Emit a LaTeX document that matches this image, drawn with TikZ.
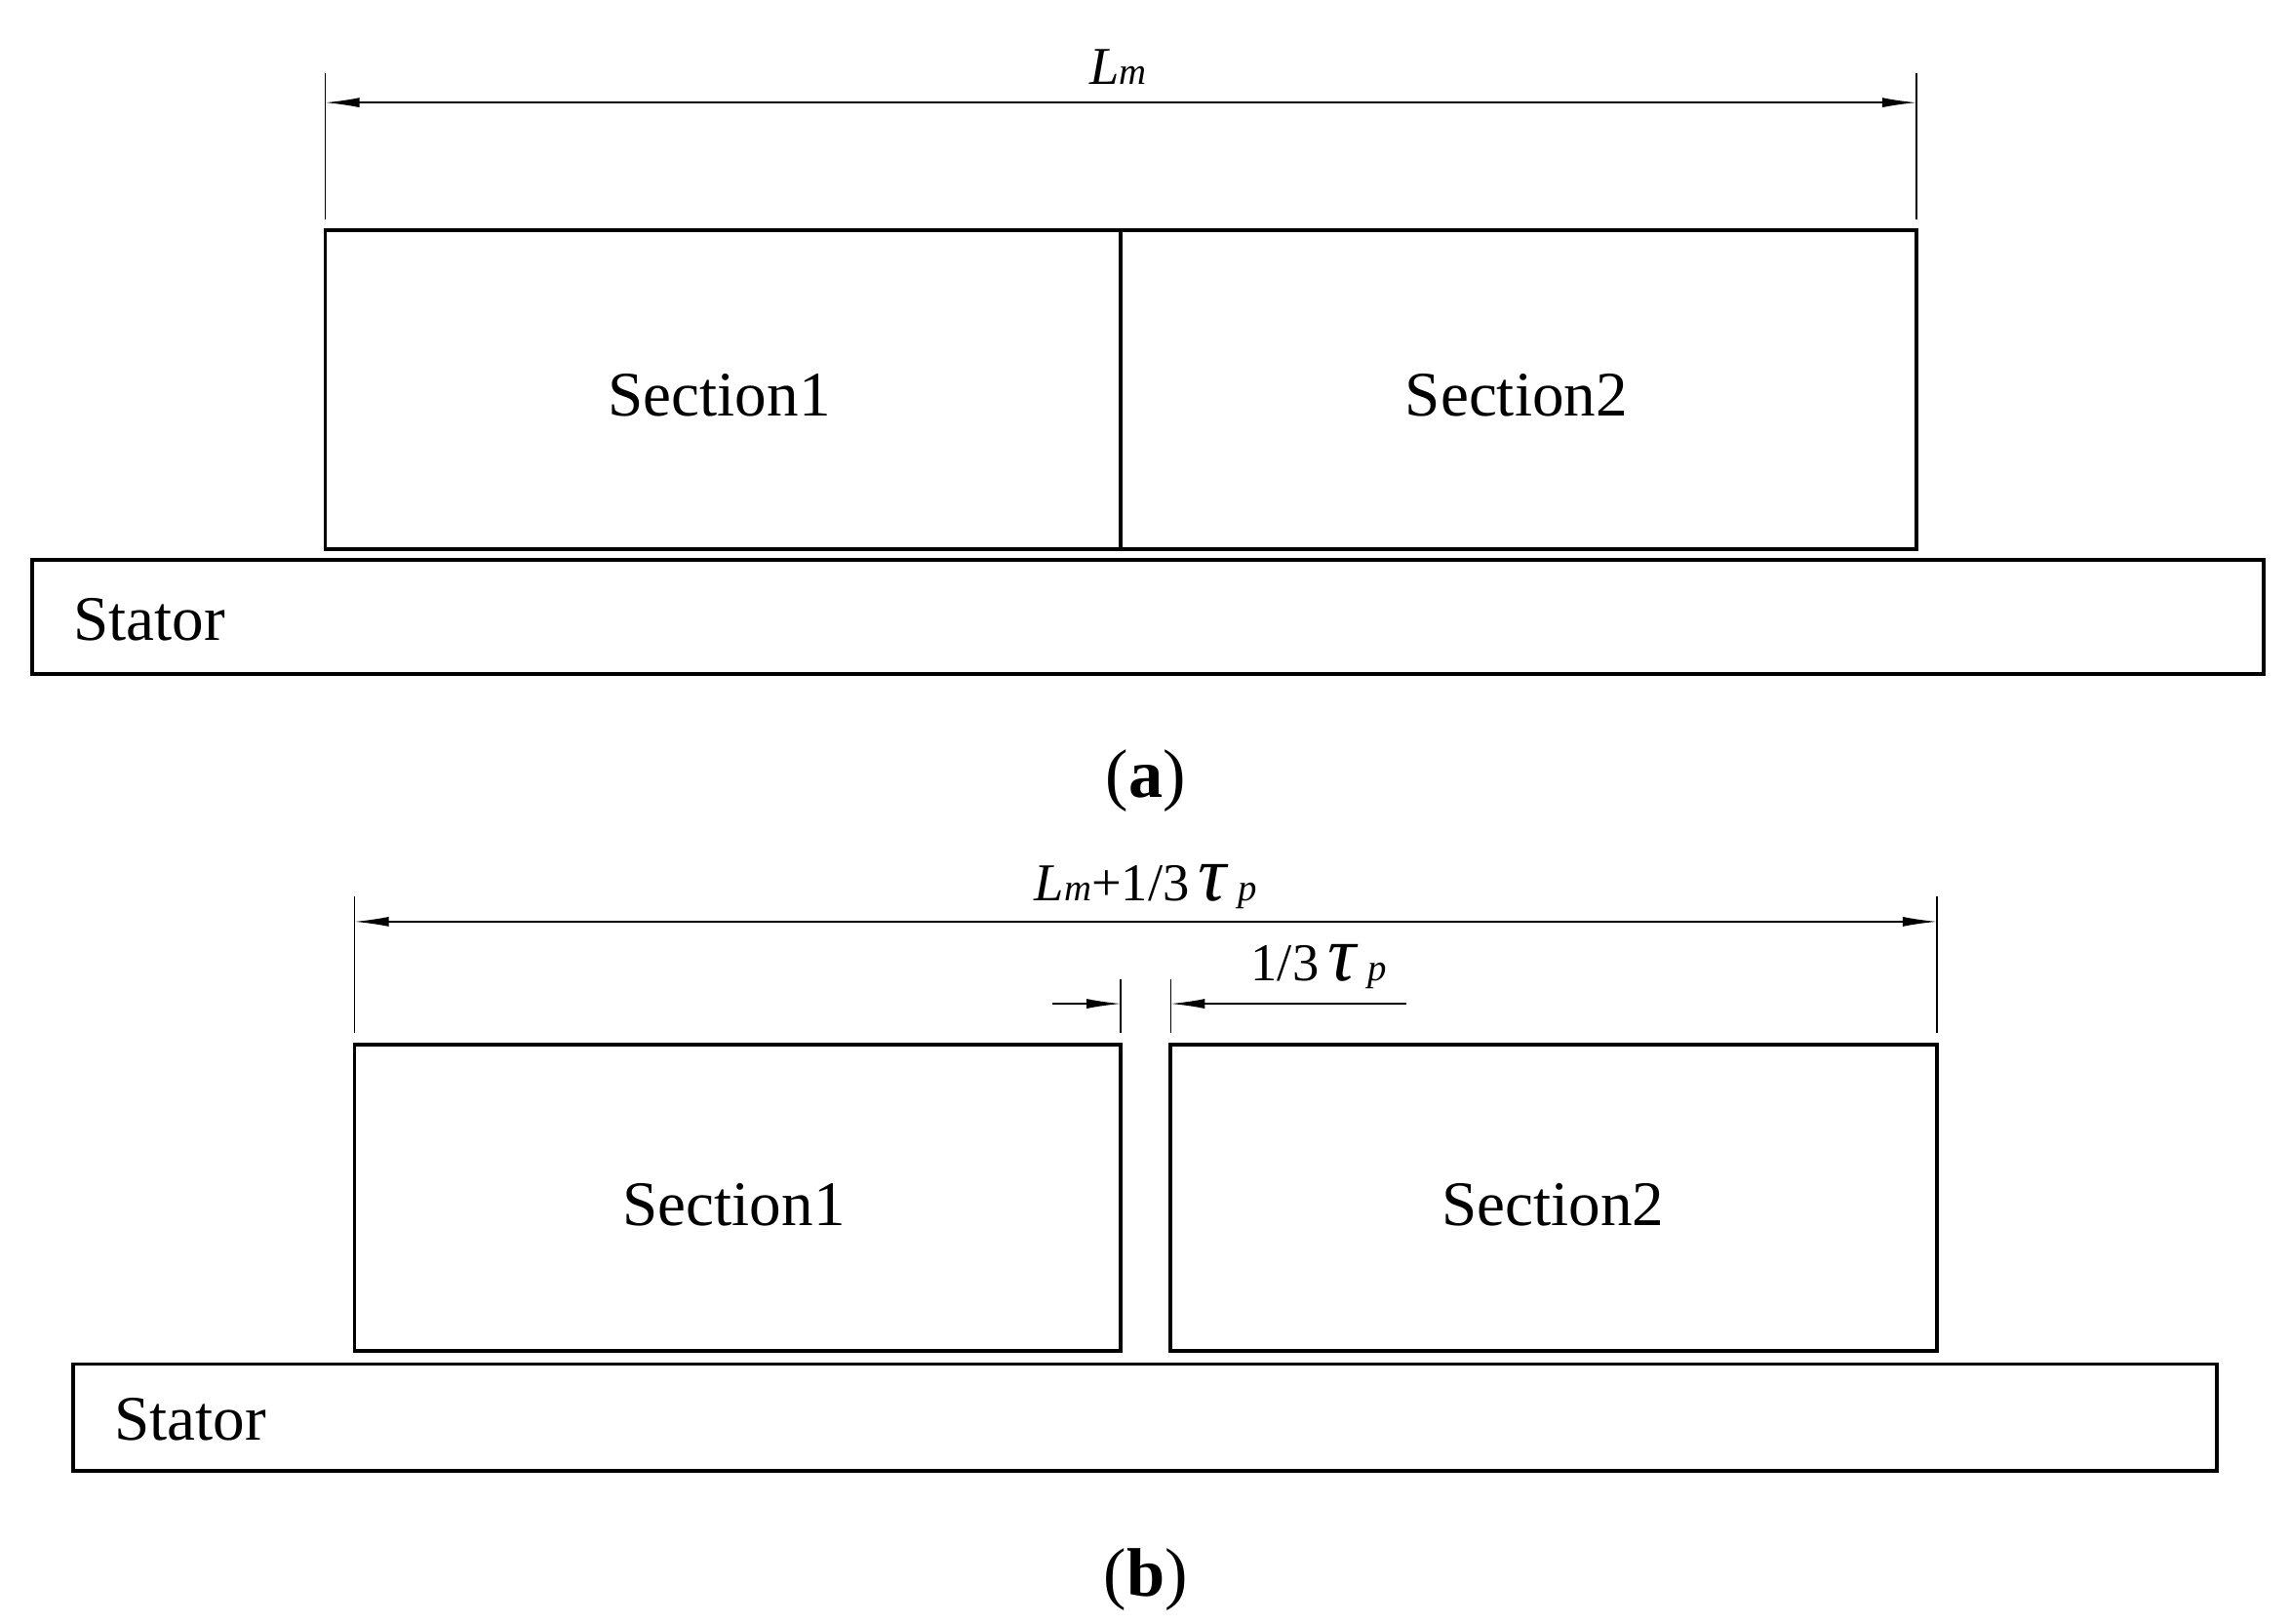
\documentclass[tikz,border=0pt]{standalone}
\usepackage{fontspec}
\setmainfont{Liberation Serif}
\usetikzlibrary{arrows.meta}
\newcommand{\bigtau}{{\fontsize{46}{48}\selectfont\textit{τ}}}
\begin{document}
\begin{tikzpicture}[x=0.3mm,y=-0.3mm,
  box/.style={line width=0.75mm},
  dim/.style={line width=0.3mm},
  arr/.style={dim,-{Latex[length=7mm,width=2mm]}},
  darr/.style={dim,{Latex[length=7mm,width=2mm]}-{Latex[length=7mm,width=2mm]}},
  lbl/.style={font=\fontsize{37}{40}\selectfont},
  dl/.style={font=\fontsize{31}{34}\selectfont}]
\useasboundingbox (0,0) rectangle (1563,1108);
% (a)
\draw[dim] (222,50) -- (222,150);
\draw[dim] (1308,50) -- (1308,150);
\draw[darr] (222,70) -- (1308,70);
\node[dl] (lma) at (763,46) {\textit{L}\textit{\fontsize{22}{24}\selectfont m}};
\draw[box] (222,157) rectangle (765,375);
\draw[box] (765,157) rectangle (1308,375);
\draw[box] (22,382) rectangle (1545,460);
\node[lbl] (s1a) at (491,270) {Section1};
\node[lbl] (s2a) at (1035,270) {Section2};
\node[lbl,anchor=west] (sta) at (46,423) {Stator};
\node[lbl] (a) at (782,533) {\fontsize{40}{44}\selectfont(\textbf{a})};
% (b)
\draw[dim] (242,612) -- (242,705);
\draw[dim] (1322,612) -- (1322,705);
\draw[darr] (242,629) -- (1322,629);
\node[dl] (lmb) at (782,605) {\textit{L}\textit{\fontsize{22}{24}\selectfont m}+1/3\,\bigtau\,\textit{\fontsize{22}{24}\selectfont p}};
\draw[dim] (765,668) -- (765,705);
\draw[dim] (799,668) -- (799,705);
\draw[arr] (718,685) -- (765,685);
\draw[arr] (960,685) -- (799,685);
\node[dl] (tp) at (900,660) {1/3\,\bigtau\,\textit{\fontsize{22}{24}\selectfont p}};
\draw[box] (242,713) rectangle (765,922);
\draw[box] (799,713) rectangle (1322,922);
\draw[box] (50,931) rectangle (1513,1004);
\node[lbl] (s1b) at (501,822) {Section1};
\node[lbl] (s2b) at (1060,822) {Section2};
\node[lbl,anchor=west] (stb) at (74,969) {Stator};
\node[lbl] (b) at (782,1078) {\fontsize{40}{44}\selectfont(\textbf{b})};
\end{tikzpicture}
\end{document}
